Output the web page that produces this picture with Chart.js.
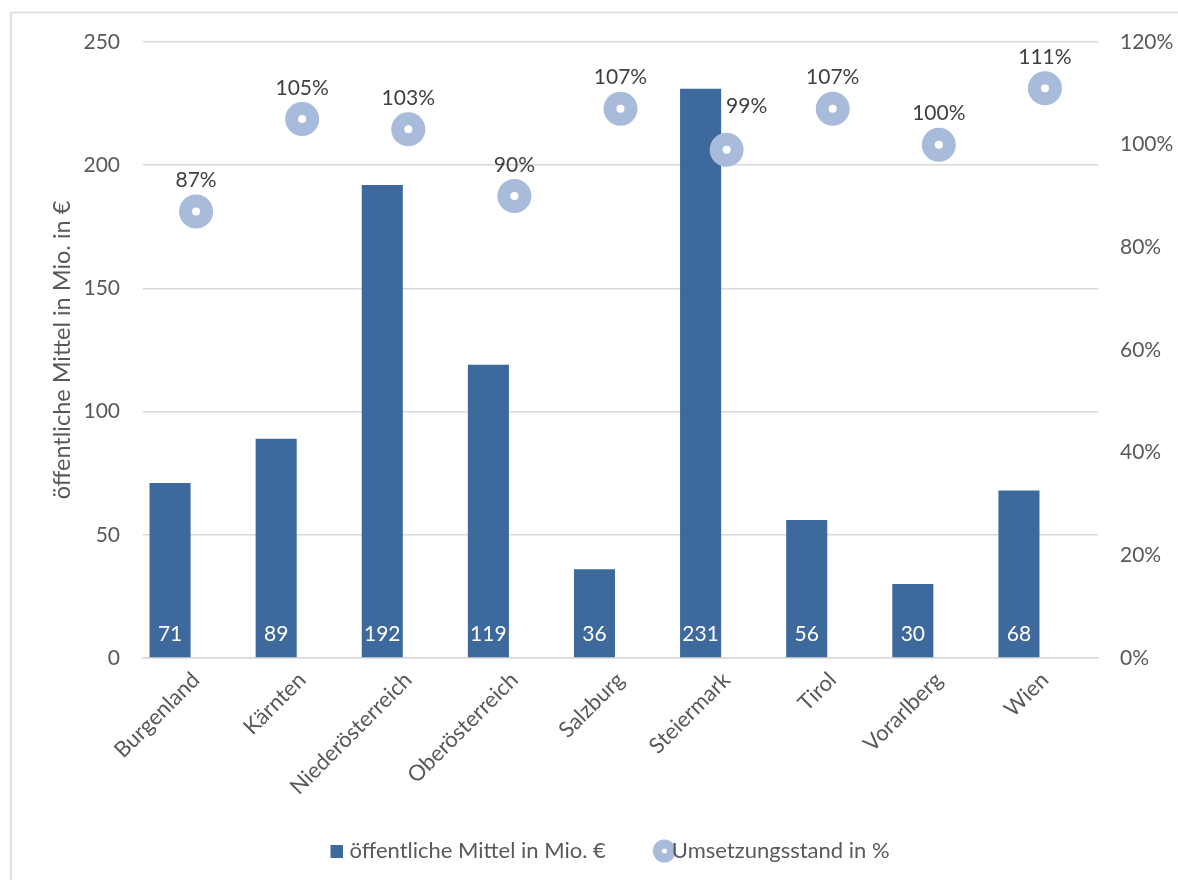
<!DOCTYPE html>
<html>
<head>
<meta charset="utf-8">
<script src="https://cdn.jsdelivr.net/npm/chart.js@4/dist/chart.umd.min.js"></script>
<style>
  html, body { margin: 0; padding: 0; background: #ffffff; }
  #wrap { width: 1178px; height: 880px; }
</style>
</head>
<body>
<div id="wrap"><canvas id="c" width="1178" height="880"></canvas></div>
<script>
// ---- data ----
const categories = ['Burgenland', 'Kärnten', 'Niederösterreich', 'Oberösterreich', 'Salzburg', 'Steiermark', 'Tirol', 'Vorarlberg', 'Wien'];
const publicFunds = [71, 89, 192, 119, 36, 231, 56, 30, 68];
const implementationPct = [87, 105, 103, 90, 107, 99, 107, 100, 111];
const fundsLabel = 'öffentliche Mittel in Mio. €';
const pctLabel = 'Umsetzungsstand in %';
const leftAxisTitle = 'öffentliche Mittel in Mio. in €';
const leftTickStep = 50, leftMax = 250;
const rightTickStep = 20, rightMax = 120;

// ---- styles ----
const FONT = 'Lato, "Open Sans", sans-serif';
const BAR_COLOR = '#3E699C';
const POINT_COLOR = '#A8BBDA';
const GRID_COLOR = '#D9D9D9';
const TEXT_COLOR = '#595959';
const LABEL_COLOR = '#404040';

function squareMarker() {
  const c = document.createElement('canvas');
  c.width = 26; c.height = 13;
  const g = c.getContext('2d');
  g.fillStyle = BAR_COLOR;
  g.fillRect(13, 0, 13, 13);
  return c;
}
function circleMarker() {
  const c = document.createElement('canvas');
  c.width = 46; c.height = 24;
  const g = c.getContext('2d');
  g.fillStyle = POINT_COLOR;
  g.beginPath(); g.arc(34.5, 12, 11.5, 0, Math.PI * 2); g.fill();
  g.fillStyle = '#ffffff';
  g.beginPath(); g.arc(34.5, 12, 2.5, 0, Math.PI * 2); g.fill();
  return c;
}

const framePlugin = {
  id: 'frame',
  beforeDraw(chart) {
    const ctx = chart.ctx;
    ctx.save();
    ctx.fillStyle = '#ffffff';
    ctx.fillRect(0, 0, chart.width, chart.height);
    ctx.strokeStyle = GRID_COLOR;
    ctx.lineWidth = 1.5;
    ctx.beginPath();
    ctx.moveTo(11, chart.height);
    ctx.lineTo(11, 12.5);
    ctx.lineTo(chart.width, 12.5);
    ctx.stroke();
    ctx.restore();
  }
};

const labelPlugin = {
  id: 'valueLabels',
  afterDatasetsDraw(chart) {
    const ctx = chart.ctx;
    ctx.save();
    ctx.font = '21px ' + FONT;
    ctx.textAlign = 'center';
    ctx.textBaseline = 'middle';
    // bar labels (inside base)
    const barMeta = chart.getDatasetMeta(1);
    const yScale = chart.scales.y;
    barMeta.data.forEach((bar, i) => {
      ctx.fillStyle = '#ffffff';
      ctx.fillText(String(publicFunds[i]), bar.x, yScale.getPixelForValue(0) - 24);
    });
    // point labels (above)
    const ptMeta = chart.getDatasetMeta(0);
    ptMeta.data.forEach((pt, i) => {
      ctx.fillStyle = LABEL_COLOR;
      let dx = 0, dy = -31;
      // label moved aside where it would collide with the tall bar
      if (publicFunds[i] / leftMax > implementationPct[i] / rightMax) { dx = 20; dy = -44; }
      ctx.fillText(implementationPct[i] + '%', pt.x + dx, pt.y + dy);
    });
    ctx.restore();
  }
};

const chart = new Chart(document.getElementById('c'), {
  data: {
    labels: categories,
    datasets: [
      {
        type: 'line',
        label: pctLabel,
        data: implementationPct,
        yAxisID: 'y2',
        showLine: false,
        order: 0,
        pointRadius: 10.5,
        pointHoverRadius: 10.5,
        pointBorderWidth: 13,
        pointHoverBorderWidth: 13,
        pointBackgroundColor: '#ffffff',
        pointBorderColor: POINT_COLOR,
        borderColor: POINT_COLOR,
        backgroundColor: '#ffffff'
      },
      {
        type: 'bar',
        label: fundsLabel,
        data: publicFunds,
        yAxisID: 'y',
        backgroundColor: BAR_COLOR,
        order: 1,
        categoryPercentage: 0.98,
        barPercentage: 0.79
      },
      {
        type: 'bar',
        label: '',
        data: [],
        yAxisID: 'y',
        backgroundColor: 'rgba(0,0,0,0)',
        order: 2,
        categoryPercentage: 0.98,
        barPercentage: 0.79
      }
    ]
  },
  options: {
    responsive: false,
    animation: false,
    events: [],
    layout: { padding: { left: 34, right: 0, top: 42, bottom: 8 } },
    plugins: {
      tooltip: { enabled: false },
      legend: {
        position: 'bottom',
        align: 'center',
        labels: {
          usePointStyle: true,
          boxWidth: 16,
          boxHeight: 16,
          padding: 39,
          color: TEXT_COLOR,
          font: { family: FONT, size: 22 },
          generateLabels() {
            return [
              { text: fundsLabel, pointStyle: squareMarker(), fillStyle: BAR_COLOR, strokeStyle: BAR_COLOR, lineWidth: 0, hidden: false, datasetIndex: 1, fontColor: TEXT_COLOR },
              { text: pctLabel, pointStyle: circleMarker(), fillStyle: POINT_COLOR, strokeStyle: POINT_COLOR, lineWidth: 0, hidden: false, datasetIndex: 0, fontColor: TEXT_COLOR }
            ];
          }
        }
      }
    },
    scales: {
      x: {
        type: 'category',
        grid: { display: false, drawTicks: false },
        border: { display: true, color: GRID_COLOR, width: 1.5 },
        ticks: {
          color: TEXT_COLOR,
          font: { family: FONT, size: 22 },
          minRotation: 45,
          maxRotation: 45,
          padding: 9,
          autoSkip: false
        },
        afterFit(scale) { scale.height = 143; }
      },
      y: {
        position: 'left',
        min: 0,
        max: leftMax,
        grid: { color: GRID_COLOR, lineWidth: 1.5, drawTicks: false },
        border: { display: false },
        ticks: {
          stepSize: leftTickStep,
          color: TEXT_COLOR,
          font: { family: FONT, size: 21 },
          padding: 23
        },
        title: {
          display: true,
          text: leftAxisTitle,
          color: TEXT_COLOR,
          font: { family: FONT, size: 23.5 },
          padding: { top: 14, bottom: 0 }
        },
        afterFit(scale) { scale.width = 109; }
      },
      y2: {
        position: 'right',
        min: 0,
        max: rightMax,
        grid: { display: false, drawTicks: false },
        border: { display: false },
        ticks: {
          stepSize: rightTickStep,
          color: TEXT_COLOR,
          font: { family: FONT, size: 21 },
          padding: 22,
          callback: (v) => v + '%'
        },
        afterFit(scale) { scale.width = 80; }
      }
    }
  },
  plugins: [framePlugin, labelPlugin]
});
</script>
</body>
</html>
